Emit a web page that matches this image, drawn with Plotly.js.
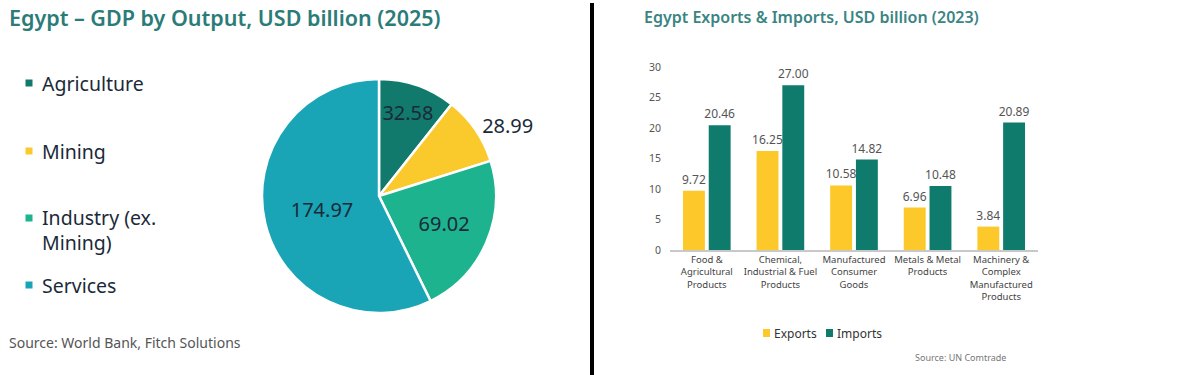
<!DOCTYPE html>
<html>
<head>
<meta charset="utf-8">
<script src="https://cdn.plot.ly/plotly-3.0.1.min.js"></script>
<style>html,body{margin:0;padding:0;background:#fff;}#chart{width:1188px;height:375px;}</style>
</head>
<body>
<div id="chart"></div>
<script>
// ---- Data: GDP by output (2025) ----
const gdpSectors = ['Agriculture', 'Mining', 'Industry (ex.<br>Mining)', 'Services'];
const gdpValues = [32.58, 28.99, 69.02, 174.97];
const gdpColors = ['#127a6d', '#fac92c', '#1db38e', '#19a5b6'];

// ---- Data: Exports & Imports (2023) ----
const tradeCategories = [
  'Food &<br>Agricultural<br>Products',
  'Chemical,<br>Industrial & Fuel<br>Products',
  'Manufactured<br>Consumer<br>Goods',
  'Metals & Metal<br>Products',
  'Machinery &<br>Complex<br>Manufactured<br>Products'
];
const tradeSeries = ['Exports', 'Imports'];
const exportsValues = [9.72, 16.25, 10.58, 6.96, 3.84];
const importsValues = [20.46, 27.00, 14.82, 10.48, 20.89];
const tradeColors = ['#fcc82a', '#0f7b6c'];
const yTicks = [0, 5, 10, 15, 20, 25, 30];

const W = 1188, H = 375;
const px = x => x / W;
const py = y => 1 - y / H;
const FONT = 'Noto Sans, Open Sans, sans-serif';

const pie = {
  type: 'pie',
  labels: gdpSectors,
  values: gdpValues,
  sort: false,
  direction: 'clockwise',
  rotation: 0,
  marker: {colors: gdpColors, line: {color: '#ffffff', width: 2.5}},
  textinfo: 'value',
  texttemplate: '%{value:.2f}',
  textposition: ['inside', 'outside', 'inside', 'inside'],
  insidetextorientation: 'horizontal',
  textfont: {family: FONT, size: 20, color: '#1b2a38'},
  domain: {x: [px(262), px(496)], y: [py(313), py(79)]},
  showlegend: false,
  hoverinfo: 'label+value'
};

function barTrace(i, vals) {
  return {
    type: 'bar', name: tradeSeries[i],
    x: tradeCategories, y: vals,
    marker: {color: tradeColors[i]},
    text: vals.map(v => v.toFixed(2)),
    textposition: 'outside',
    constraintext: 'none',
    textfont: {family: FONT, size: 12, color: '#555'},
    cliponaxis: false,
    showlegend: false,
    xaxis: 'x', yaxis: 'y'
  };
}
const exportsTrace = barTrace(0, exportsValues);
const importsTrace = barTrace(1, importsValues);

// manual legends: layout positions
const pieLegendY = [83, 151, 229.5, 285];
const barLegendX = [763, 826];
const barLegendY = 333;

const shapes = [
  {type: 'line', xref: 'paper', yref: 'paper', x0: px(592), x1: px(592), y0: py(3), y1: py(375),
   line: {color: '#000', width: 4}}
];
const annotations = [
  {text: 'Egypt – GDP by Output, USD billion (2025)', xref: 'paper', yref: 'paper',
   x: px(7), y: py(17), xanchor: 'left', yanchor: 'middle', showarrow: false,
   font: {family: FONT, size: 21.5, color: '#2b7b79', weight: 600}},
  {text: 'Egypt Exports & Imports, USD billion (2023)', xref: 'paper', yref: 'paper',
   x: px(642), y: py(17), xanchor: 'left', yanchor: 'middle', showarrow: false,
   font: {family: FONT, size: 16, color: '#3a8583', weight: 600}},
  {text: 'Source: World Bank, Fitch Solutions', xref: 'paper', yref: 'paper',
   x: px(7), y: py(342), xanchor: 'left', yanchor: 'middle', showarrow: false,
   font: {family: FONT, size: 14, color: '#555'}},
  {text: 'Source: UN Comtrade', xref: 'paper', yref: 'paper',
   x: px(960), y: py(357), xanchor: 'center', yanchor: 'middle', showarrow: false,
   font: {family: FONT, size: 9, color: '#777'}}
];
gdpSectors.forEach((s, i) => {
  const sy = pieLegendY[i] - (i === 2 ? 11.5 : 0);
  shapes.push({type: 'rect', xref: 'paper', yref: 'paper',
    x0: px(25.5), x1: px(32.5), y0: py(sy + 3.5), y1: py(sy - 3.5),
    fillcolor: gdpColors[i], line: {width: 0}});
  annotations.push({text: s, xref: 'paper', yref: 'paper', x: px(40), y: py(pieLegendY[i]),
    xanchor: 'left', yanchor: 'middle', align: 'left', showarrow: false,
    font: {family: FONT, size: 19.5, color: '#1b2a38'}});
});
tradeSeries.forEach((s, i) => {
  shapes.push({type: 'rect', xref: 'paper', yref: 'paper',
    x0: px(barLegendX[i]), x1: px(barLegendX[i] + 7), y0: py(barLegendY + 4), y1: py(barLegendY - 4),
    fillcolor: tradeColors[i], line: {width: 0}});
  annotations.push({text: s, xref: 'paper', yref: 'paper', x: px(barLegendX[i] + 9), y: py(barLegendY),
    xanchor: 'left', yanchor: 'middle', showarrow: false,
    font: {family: FONT, size: 12, color: '#333'}});
});

const layout = {
  width: W, height: H,
  margin: {l: 0, r: 0, t: 0, b: 0},
  paper_bgcolor: '#fff', plot_bgcolor: '#fff',
  font: {family: FONT},
  barmode: 'group', bargap: 0.3, bargroupgap: 0.15,
  showlegend: false,
  xaxis: {domain: [px(670), px(1038)], showline: true, linecolor: '#c8c8c8', linewidth: 1.5,
          ticks: '', showgrid: false, zeroline: false,
          tickfont: {family: FONT, size: 9.5, color: '#444'}, fixedrange: true},
  yaxis: {domain: [py(250), py(67)], range: [0, 30], tickvals: yTicks, ticks: '',
          showgrid: false, zeroline: false, showline: false, ticklabelstandoff: 8,
          tickfont: {family: FONT, size: 10.5, color: '#555'}, fixedrange: true},
  shapes: shapes,
  annotations: annotations
};

Plotly.newPlot('chart', [pie, exportsTrace, importsTrace], layout, {displayModeBar: false, staticPlot: true});
</script>
</body>
</html>
